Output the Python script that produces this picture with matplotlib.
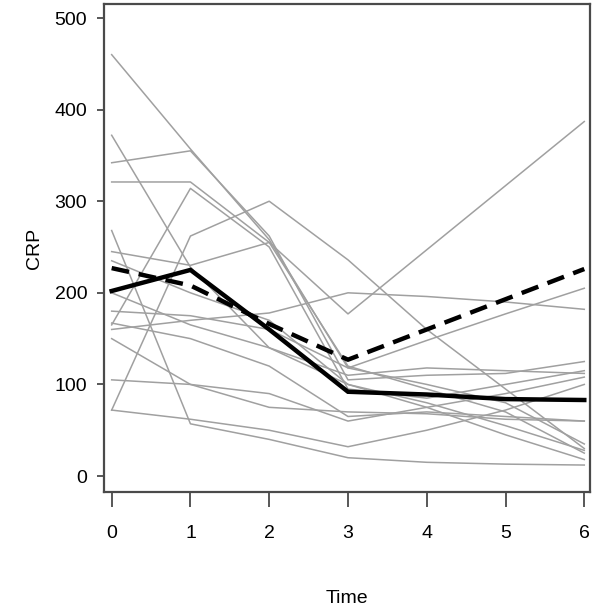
import numpy as np
import matplotlib
matplotlib.use("Agg")
import matplotlib.pyplot as plt

plt.rcParams['font.family'] = ['Liberation Sans', 'DejaVu Sans']

time = [0, 1, 2, 3, 4, 5, 6]

# individual patients (grey lines), CRP at each time point
subjects = [
    [460, 357, 258, 118, 100, 80, 35],
    [372, 228, 140, 100, 75, 45, 18],
    [342, 355, 262, 105, 110, 112, 125],
    [321, 321, 255, 120, 95, 70, 25],
    [165, 314, 250, 95, 85, 100, 115],
    [72, 262, 300, 236, 160, 95, 30],
    [245, 230, 255, 177, 247, 317, 387],
    [160, 170, 178, 200, 196, 190, 182],
    [268, 57, 40, 20, 15, 13, 12],
    [167, 150, 120, 65, 70, 65, 60],
    [105, 100, 90, 60, 75, 90, 108],
    [72, 62, 50, 32, 50, 72, 100],
    [200, 165, 140, 110, 118, 115, 112],
    [180, 175, 160, 118, 148, 177, 205],
    [235, 200, 170, 100, 80, 55, 28],
    [150, 100, 75, 70, 68, 62, 60],
]

mean_crp = [227, 208, 166, 127, 160, 193, 226]
median_crp = [202, 225, 160, 92, 89, 84, 83]

fig = plt.figure(figsize=(6.0, 6.09), dpi=100)
ax = fig.add_axes([0.173, 0.192, 0.81, 0.801])

for s in subjects:
    ax.plot(time, s, color="#a0a0a0", lw=1.1)
ax.plot(time, median_crp, color="black", lw=3.2, solid_joinstyle="miter")
ax.plot(time, mean_crp, color="black", lw=3.2, dashes=(4, 2.2))

ax.set_xlim(-0.10, 6.07)
ax.set_ylim(-17.5, 515)
ax.set_xticks(time)
ax.set_yticks([0, 100, 200, 300, 400, 500])

for sp in ax.spines.values():
    sp.set_color("#4a4a4a")
    sp.set_linewidth(1.6)

ax.tick_params(axis="x", length=11, width=1.3, color="#4a4a4a", pad=13, labelsize=14)
ax.tick_params(axis="y", length=5, width=1.3, color="#4a4a4a", pad=7, labelsize=14)

ax.set_xlabel("Time", fontsize=14)
ax.set_ylabel("CRP", fontsize=14)
ax.xaxis.set_label_coords(0.5, -0.2)
ax.yaxis.set_label_coords(-0.125, 0.5)

fig.savefig("out.png", dpi=100)
